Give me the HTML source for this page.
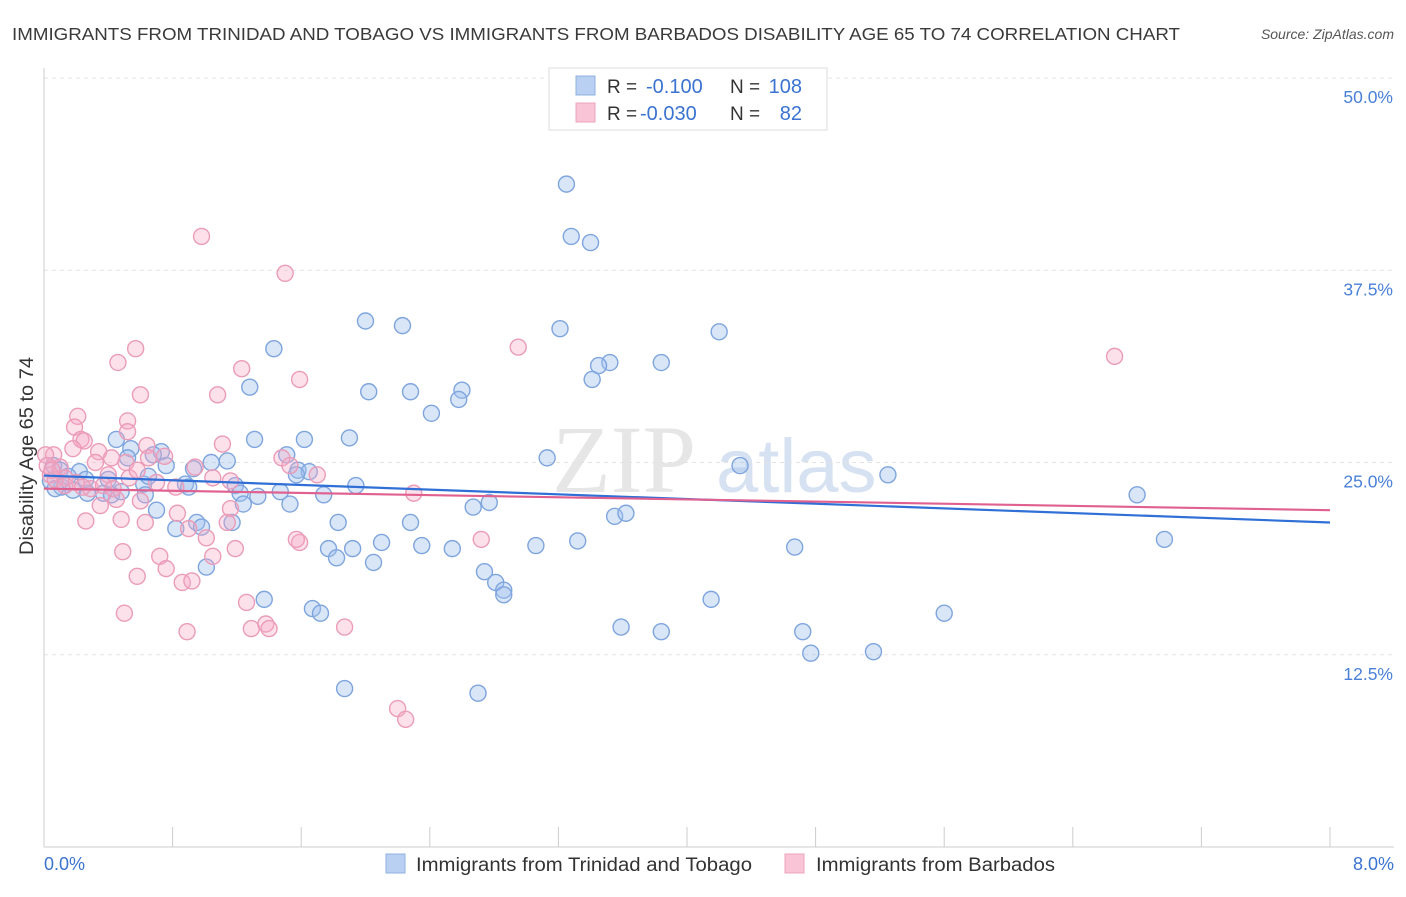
<!DOCTYPE html>
<html><head><meta charset="utf-8"><style>
body{margin:0;background:#fff;font-family:"Liberation Sans",sans-serif}
</style></head><body>
<svg width="1406" height="892" viewBox="0 0 1406 892" id="c">
<text x="12" y="40" font-size="17.5" fill="#3a3a3a" textLength="1168" lengthAdjust="spacingAndGlyphs">IMMIGRANTS FROM TRINIDAD AND TOBAGO VS IMMIGRANTS FROM BARBADOS DISABILITY AGE 65 TO 74 CORRELATION CHART</text>
<text x="1394" y="39" font-size="14" fill="#555" text-anchor="end" font-style="italic">Source: ZipAtlas.com</text>
<text x="552" y="492" font-size="96" fill="#e6e6e6" font-family="Liberation Serif">ZIP</text>
<text x="716" y="492" font-size="76" fill="#d6e2f2">atlas</text>
<g id="grid"></g><g id="axes"></g><g id="pts"></g><g id="lines"></g>
<text transform="translate(33,456) rotate(-90)" font-size="19" fill="#333" text-anchor="middle" textLength="198" lengthAdjust="spacingAndGlyphs">Disability Age 65 to 74</text>
<text x="44" y="870" font-size="18" fill="#3a73d0">0.0%</text>
<text x="1394" y="870" font-size="18" fill="#3a73d0" text-anchor="end">8.0%</text>
<g>
<rect x="549" y="68" width="278" height="62" fill="#fff" stroke="#ddd"/>
<rect x="576" y="76" width="19" height="19" fill="#b9d0f2" stroke="#8fb0e0"/>
<rect x="576" y="103" width="19" height="19" fill="#f8c4d6" stroke="#eea3be"/>
<text x="607" y="93" font-size="19" fill="#333">R =</text>
<text x="646" y="93" font-size="20" fill="#3a73d0">-0.100</text>
<text x="730" y="93" font-size="19" fill="#333">N =</text>
<text x="802" y="93" font-size="20" fill="#3a73d0" text-anchor="end">108</text>
<text x="607" y="120" font-size="19" fill="#333">R =</text>
<text x="640" y="120" font-size="20" fill="#3a73d0">-0.030</text>
<text x="730" y="120" font-size="19" fill="#333">N =</text>
<text x="802" y="120" font-size="20" fill="#3a73d0" text-anchor="end">82</text>
</g>
<g>
<rect x="386" y="854" width="19" height="19" fill="#b9d0f2" stroke="#8fb0e0"/>
<text x="416" y="871" font-size="19" fill="#333" textLength="336" lengthAdjust="spacingAndGlyphs">Immigrants from Trinidad and Tobago</text>
<rect x="785" y="854" width="19" height="19" fill="#f8c4d6" stroke="#eea3be"/>
<text x="816" y="871" font-size="19" fill="#333" textLength="239" lengthAdjust="spacingAndGlyphs">Immigrants from Barbados</text>
</g>
</svg>
<script>
const yTicks=[12.5,25,37.5,50];
const yTickLabels=["12.5%","25.0%","37.5%","50.0%"];
const xTicks=[0,0.8,1.6,2.4,3.2,4,4.8,5.6,6.4,7.2,8];
const blueX=[3.25,3.28,3.40,2.00,2.23,3.21,4.20,1.43,3.52,3.45,3.84,3.41,1.28,2.02,2.28,2.60,2.58,2.41,1.90,1.62,0.45,1.31,0.54,0.73,1.51,0.68,0.52,3.13,4.33,5.25,1.04,1.14,0.76,0.93,1.58,1.65,1.57,0.22,0.06,0.10,0.11,0.18,0.27,0.37,0.42,0.48,0.62,0.63,0.88,0.90,1.19,1.22,1.33,1.47,1.74,1.94,2.77,2.67,1.53,1.24,0.70,0.82,0.95,0.98,1.17,1.83,2.28,3.55,3.62,6.80,6.97,2.10,1.77,1.92,2.35,2.54,3.06,3.32,4.67,1.82,2.05,1.01,2.74,2.81,2.86,2.86,1.37,4.15,1.67,1.72,5.60,3.59,3.84,4.72,4.77,5.16,1.87,2.70,0.04,0.15,0.26,0.40,0.07,0.65];
const blueY=[43.1,39.7,39.3,34.2,33.9,33.7,33.5,32.4,31.5,31.3,31.5,30.4,29.9,29.6,29.6,29.7,29.1,28.2,26.6,26.5,26.5,26.5,25.9,25.7,25.5,25.5,25.3,25.3,24.8,24.2,25.0,25.1,24.8,24.6,24.5,24.4,24.2,24.4,24.8,24.5,23.4,23.2,23.0,23.0,22.9,23.1,23.6,22.9,23.6,23.4,23.5,23.0,22.8,23.1,22.9,23.5,22.4,22.1,22.3,22.3,21.9,20.7,21.1,20.8,21.1,21.1,21.1,21.5,21.7,22.9,20.0,19.8,19.4,19.4,19.6,19.4,19.6,19.9,19.5,18.8,18.5,18.2,17.9,17.2,16.7,16.4,16.1,16.1,15.5,15.2,15.2,14.3,14.0,14.0,12.6,12.7,10.3,10.0,23.8,24.1,23.9,23.9,23.3,24.1];
const pinkX=[0.98,1.50,2.95,6.66,0.57,0.46,1.23,1.59,0.60,1.08,0.21,0.52,0.19,0.52,0.23,0.25,0.64,1.11,0.18,0.34,0.65,0.75,0.42,1.48,0.51,0.94,0.32,1.53,1.70,0.53,0.40,1.05,1.16,0.82,0.06,0.10,0.13,0.29,2.30,0.45,0.60,1.16,0.35,0.83,0.26,0.48,0.63,0.90,1.14,1.01,1.19,1.59,1.57,2.72,0.49,0.72,1.05,0.76,0.58,0.86,0.92,1.26,0.50,1.38,1.29,0.89,1.40,1.87,2.20,2.25,0.01,0.02,0.04,0.07,0.13,0.05,0.20,0.24,0.37,0.43,0.58,0.70];
const pinkY=[39.7,37.3,32.5,31.9,32.4,31.5,31.1,30.4,29.4,29.4,28.0,27.7,27.3,27.0,26.5,26.4,26.1,26.2,25.9,25.7,25.3,25.4,25.3,25.3,25.0,24.7,25.0,24.8,24.2,24.0,24.2,24.0,23.8,23.4,25.5,24.7,24.0,23.3,23.0,22.6,22.5,22.0,22.2,21.7,21.2,21.3,21.1,20.7,21.1,20.1,19.4,19.8,20.0,20.0,19.2,18.9,18.9,18.1,17.6,17.2,17.3,15.9,15.2,14.5,14.2,14.0,14.2,14.3,9.0,8.3,25.5,24.8,24.2,23.9,23.5,24.5,23.7,23.4,23.5,23.3,24.5,23.7];
const blueTrend=[24.15,21.1];
const pinkTrend=[23.3,21.9];
const NS="http://www.w3.org/2000/svg";
const X0=44,X1=1330,YB=847,YT=78;
const sx=v=>X0+v/8*(X1-X0);
const sy=v=>YB-v/50*(YB-YT);
function mk(tag,attrs,parent){const e=document.createElementNS(NS,tag);for(const k in attrs)e.setAttribute(k,attrs[k]);parent.appendChild(e);return e;}
const grid=document.getElementById('grid'),axes=document.getElementById('axes'),pts=document.getElementById('pts'),lines=document.getElementById('lines');
yTicks.forEach((t,i)=>{
 const l=mk('line',{x1:X0,x2:1394,y1:sy(t),y2:sy(t),stroke:'#e3e3e3','stroke-dasharray':'4,4'},grid);
 
 
 const tx=mk('text',{x:1393,y:sy(t)+25,'font-size':17.5,fill:'#4a80d8','text-anchor':'end'},grid);
 tx.textContent=yTickLabels[i];
 
 
});
const ya=mk('line',{x1:X0,x2:X0,y1:68,y2:YB,stroke:'#ccc'},axes);


const xa=mk('line',{x1:X0,x2:1394,y1:YB,y2:YB,stroke:'#ccc'},axes);


xTicks.forEach(t=>{
 const k=mk('line',{x1:sx(t),x2:sx(t),y1:YB,y2:YB-20,stroke:'#ccc'},axes);
 
 
});
function dots(xs,ys,fill,stroke,name){
 xs.forEach((x,i)=>{
  const c=mk('circle',{cx:sx(x),cy:sy(ys[i]),r:8,fill:fill,stroke:stroke,'stroke-width':1.4},pts);
  
  
 });
}
dots(blueX,blueY,'rgba(160,192,238,0.4)','#7fa5de','trinidad-point');
dots(pinkX,pinkY,'rgba(246,170,198,0.35)','#eb9cb8','barbados-point');
const bl=mk('line',{x1:sx(0),y1:sy(blueTrend[0]),x2:sx(8),y2:sy(blueTrend[1]),stroke:'#2f6fd6','stroke-width':2.2},lines);


const pl=mk('line',{x1:sx(0),y1:sy(pinkTrend[0]),x2:sx(8),y2:sy(pinkTrend[1]),stroke:'#e0608f','stroke-width':2.2},lines);


</script>
</body></html>
